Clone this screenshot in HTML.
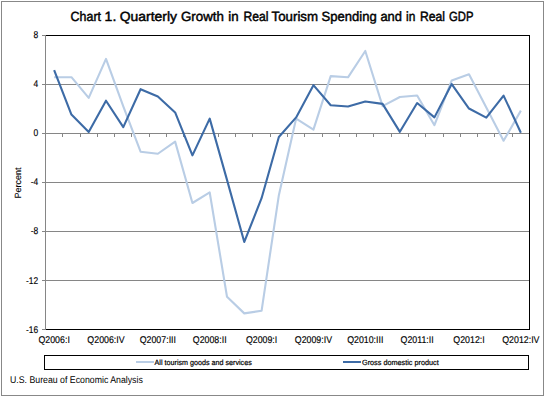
<!DOCTYPE html>
<html><head><meta charset="utf-8"><style>
html,body{margin:0;padding:0;background:#fff;width:545px;height:397px;overflow:hidden}
svg{display:block}
text{font-family:"Liberation Sans",sans-serif;fill:#000;text-rendering:geometricPrecision}
.yl{font-size:9.8px;stroke:#000;stroke-width:0.15px}
.xl{font-size:9.8px;stroke:#000;stroke-width:0.15px}
.lg{font-size:7.5px;stroke:#000;stroke-width:0.2px}
.tt{font-size:13.4px;stroke:#000;stroke-width:0.45px}
</style></head><body>
<svg width="545" height="397" viewBox="0 0 545 397">
<rect x="1.5" y="1.5" width="542" height="394" fill="#fff" stroke="#888"/>
<text x="70.60" y="21" class="tt" textLength="30.38" lengthAdjust="spacingAndGlyphs">Chart</text>
<text x="104.60" y="21" class="tt" textLength="11.76" lengthAdjust="spacingAndGlyphs">1.</text>
<text x="119.80" y="21" class="tt" textLength="57.19" lengthAdjust="spacingAndGlyphs">Quarterly</text>
<text x="181.00" y="21" class="tt" textLength="42.87" lengthAdjust="spacingAndGlyphs">Growth</text>
<text x="228.20" y="21" class="tt" textLength="10.36" lengthAdjust="spacingAndGlyphs">in</text>
<text x="243.40" y="21" class="tt" textLength="25.03" lengthAdjust="spacingAndGlyphs">Real</text>
<text x="271.60" y="21" class="tt" textLength="46.48" lengthAdjust="spacingAndGlyphs">Tourism</text>
<text x="321.60" y="21" class="tt" textLength="55.08" lengthAdjust="spacingAndGlyphs">Spending</text>
<text x="380.40" y="21" class="tt" textLength="21.54" lengthAdjust="spacingAndGlyphs">and</text>
<text x="406.00" y="21" class="tt" textLength="9.33" lengthAdjust="spacingAndGlyphs">in</text>
<text x="420.00" y="21" class="tt" textLength="25.03" lengthAdjust="spacingAndGlyphs">Real</text>
<text x="449.00" y="21" class="tt" textLength="24.43" lengthAdjust="spacingAndGlyphs">GDP</text>
<g shape-rendering="crispEdges">
<line x1="42" y1="35.5" x2="45" y2="35.5" stroke="#868686"/>
<line x1="46" y1="84.5" x2="529" y2="84.5" stroke="#868686"/>
<line x1="42" y1="84.5" x2="45" y2="84.5" stroke="#868686"/>
<line x1="46" y1="133.5" x2="529" y2="133.5" stroke="#868686"/>
<line x1="42" y1="133.5" x2="45" y2="133.5" stroke="#868686"/>
<line x1="46" y1="182.5" x2="529" y2="182.5" stroke="#868686"/>
<line x1="42" y1="182.5" x2="45" y2="182.5" stroke="#868686"/>
<line x1="46" y1="231.5" x2="529" y2="231.5" stroke="#868686"/>
<line x1="42" y1="231.5" x2="45" y2="231.5" stroke="#868686"/>
<line x1="46" y1="280.5" x2="529" y2="280.5" stroke="#868686"/>
<line x1="42" y1="280.5" x2="45" y2="280.5" stroke="#868686"/>
<line x1="42" y1="329.5" x2="45" y2="329.5" stroke="#868686"/>
<line x1="62.5" y1="134" x2="62.5" y2="137" stroke="#868686"/>
<line x1="80.5" y1="134" x2="80.5" y2="137" stroke="#868686"/>
<line x1="97.5" y1="134" x2="97.5" y2="137" stroke="#868686"/>
<line x1="114.5" y1="134" x2="114.5" y2="137" stroke="#868686"/>
<line x1="131.5" y1="134" x2="131.5" y2="137" stroke="#868686"/>
<line x1="149.5" y1="134" x2="149.5" y2="137" stroke="#868686"/>
<line x1="166.5" y1="134" x2="166.5" y2="137" stroke="#868686"/>
<line x1="183.5" y1="134" x2="183.5" y2="137" stroke="#868686"/>
<line x1="201.5" y1="134" x2="201.5" y2="137" stroke="#868686"/>
<line x1="218.5" y1="134" x2="218.5" y2="137" stroke="#868686"/>
<line x1="235.5" y1="134" x2="235.5" y2="137" stroke="#868686"/>
<line x1="252.5" y1="134" x2="252.5" y2="137" stroke="#868686"/>
<line x1="270.5" y1="134" x2="270.5" y2="137" stroke="#868686"/>
<line x1="287.5" y1="134" x2="287.5" y2="137" stroke="#868686"/>
<line x1="304.5" y1="134" x2="304.5" y2="137" stroke="#868686"/>
<line x1="322.5" y1="134" x2="322.5" y2="137" stroke="#868686"/>
<line x1="339.5" y1="134" x2="339.5" y2="137" stroke="#868686"/>
<line x1="356.5" y1="134" x2="356.5" y2="137" stroke="#868686"/>
<line x1="373.5" y1="134" x2="373.5" y2="137" stroke="#868686"/>
<line x1="391.5" y1="134" x2="391.5" y2="137" stroke="#868686"/>
<line x1="408.5" y1="134" x2="408.5" y2="137" stroke="#868686"/>
<line x1="425.5" y1="134" x2="425.5" y2="137" stroke="#868686"/>
<line x1="443.5" y1="134" x2="443.5" y2="137" stroke="#868686"/>
<line x1="460.5" y1="134" x2="460.5" y2="137" stroke="#868686"/>
<line x1="477.5" y1="134" x2="477.5" y2="137" stroke="#868686"/>
<line x1="494.5" y1="134" x2="494.5" y2="137" stroke="#868686"/>
<line x1="512.5" y1="134" x2="512.5" y2="137" stroke="#868686"/>
<line x1="45.5" y1="35" x2="45.5" y2="330" stroke="#868686"/>
<line x1="45" y1="133.5" x2="529" y2="133.5" stroke="#868686"/>
<line x1="46" y1="35.5" x2="530" y2="35.5" stroke="#000"/>
<line x1="529.5" y1="35" x2="529.5" y2="330" stroke="#000"/>
<line x1="46" y1="329.5" x2="530" y2="329.5" stroke="#000"/>
</g>
<polyline fill="none" stroke="#B9CDE5" stroke-width="2.1" stroke-linejoin="round" points="54.14,77.19 71.43,77.19 88.71,97.90 106.00,58.94 123.29,106.35 140.57,151.68 157.86,153.76 175.14,141.63 192.43,203.00 209.71,192.47 227.00,296.71 244.29,313.38 261.57,310.80 278.86,195.16 296.14,118.60 313.43,129.62 330.71,76.09 348.00,77.32 365.29,50.98 382.57,106.10 399.86,97.04 417.14,95.45 434.43,125.21 451.71,80.50 469.00,74.25 486.29,107.58 503.57,140.77 520.86,110.64"/>
<polyline fill="none" stroke="#3D6BA6" stroke-width="2.1" stroke-linejoin="round" points="54.14,70.21 71.43,114.56 88.71,131.95 106.00,100.71 123.29,127.17 140.57,89.20 157.86,96.55 175.14,112.47 192.43,155.35 209.71,118.60 227.00,179.85 244.29,241.96 261.57,198.23 278.86,136.98 296.14,117.38 313.43,85.16 330.71,105.25 348.00,106.47 365.29,101.45 382.57,103.90 399.86,131.83 417.14,103.04 434.43,117.38 451.71,84.05 469.00,108.55 486.29,117.62 503.57,95.57 520.86,132.69"/>
<text x="38.2" y="38.0" class="yl" text-anchor="end" textLength="4.69" lengthAdjust="spacingAndGlyphs">8</text>
<text x="38.2" y="87.0" class="yl" text-anchor="end" textLength="4.69" lengthAdjust="spacingAndGlyphs">4</text>
<text x="38.2" y="136.0" class="yl" text-anchor="end" textLength="4.69" lengthAdjust="spacingAndGlyphs">0</text>
<text x="38.2" y="185.0" class="yl" text-anchor="end" textLength="7.50" lengthAdjust="spacingAndGlyphs">-4</text>
<text x="38.2" y="234.0" class="yl" text-anchor="end" textLength="7.50" lengthAdjust="spacingAndGlyphs">-8</text>
<text x="38.2" y="284.0" class="yl" text-anchor="end" textLength="12.18" lengthAdjust="spacingAndGlyphs">-12</text>
<text x="38.2" y="333.0" class="yl" text-anchor="end" textLength="12.18" lengthAdjust="spacingAndGlyphs">-16</text>
<text x="54.14" y="343" class="xl" text-anchor="middle" textLength="31.39" lengthAdjust="spacingAndGlyphs">Q2006:I</text>
<text x="106.00" y="343" class="xl" text-anchor="middle" textLength="37.28" lengthAdjust="spacingAndGlyphs">Q2006:IV</text>
<text x="157.86" y="343" class="xl" text-anchor="middle" textLength="36.29" lengthAdjust="spacingAndGlyphs">Q2007:III</text>
<text x="209.71" y="343" class="xl" text-anchor="middle" textLength="33.83" lengthAdjust="spacingAndGlyphs">Q2008:II</text>
<text x="261.57" y="343" class="xl" text-anchor="middle" textLength="31.39" lengthAdjust="spacingAndGlyphs">Q2009:I</text>
<text x="313.43" y="343" class="xl" text-anchor="middle" textLength="37.28" lengthAdjust="spacingAndGlyphs">Q2009:IV</text>
<text x="365.29" y="343" class="xl" text-anchor="middle" textLength="36.29" lengthAdjust="spacingAndGlyphs">Q2010:III</text>
<text x="417.14" y="343" class="xl" text-anchor="middle" textLength="33.19" lengthAdjust="spacingAndGlyphs">Q2011:II</text>
<text x="469.00" y="343" class="xl" text-anchor="middle" textLength="31.39" lengthAdjust="spacingAndGlyphs">Q2012:I</text>
<text x="520.86" y="343" class="xl" text-anchor="middle" textLength="37.28" lengthAdjust="spacingAndGlyphs">Q2012:IV</text>
<text transform="translate(21.4,182.9) rotate(-90)" text-anchor="middle" style="font-size:9px;stroke:#000;stroke-width:0.12px">Percent</text>
<g shape-rendering="crispEdges"><rect x="44.5" y="355.5" width="484" height="14" fill="none" stroke="#000"/></g>
<line x1="136" y1="362" x2="154" y2="362" stroke="#B9CDE5" stroke-width="2"/>
<text x="154.60" y="365" class="lg" style="" textLength="97.14" lengthAdjust="spacingAndGlyphs">All tourism goods and services</text>
<line x1="343" y1="362" x2="361" y2="362" stroke="#3D6BA6" stroke-width="2"/>
<text x="362.00" y="365" class="lg" style="" textLength="76.70" lengthAdjust="spacingAndGlyphs">Gross domestic product</text>
<text x="10.00" y="383" class="" style="font-size:9.8px" textLength="132.79" lengthAdjust="spacingAndGlyphs">U.S. Bureau of Economic Analysis</text>
</svg>
</body></html>
